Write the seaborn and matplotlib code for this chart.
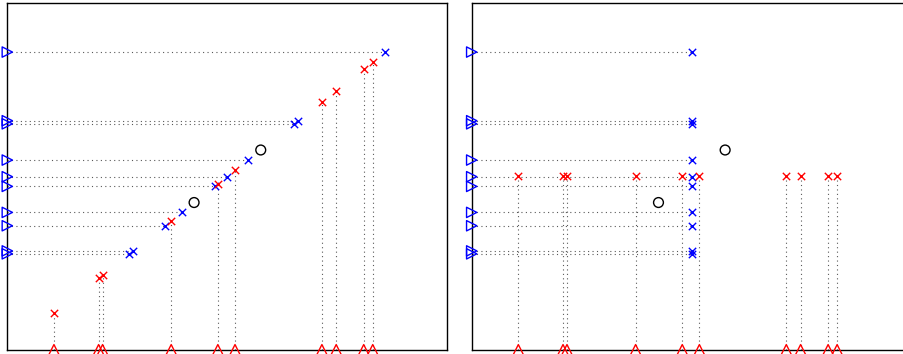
import numpy as np
import pandas as pd
import matplotlib
matplotlib.use('Agg')
import matplotlib.pyplot as plt
import seaborn as sns

# values (both axes span -1..1)
blue_vals = [0.717, 0.303, 0.321, 0.094, -0.002, -0.058, -0.208, -0.285, -0.447, -0.430]
red_vals = [0.661, 0.620, 0.495, 0.430, 0.035, -0.043, -0.255, -0.585, -0.567, -0.788]
circle_vals = [0.152, -0.151]
lims = (-1, 1)

sns.set_style('white')

fig = plt.figure(figsize=(9.04, 3.54), dpi=100)
ax1 = fig.add_axes([7.3 / 904, 4.3 / 354, 440 / 904, 346.7 / 354])
ax2 = fig.add_axes([471.7 / 904, 4.3 / 354, 440 / 904, 346.7 / 354])

blue = np.array(blue_vals)
red = np.array(red_vals)
circ = np.array(circle_vals)

panels = [
    (ax1, blue, blue, red, red),                                  # points on the diagonal
    (ax2, np.zeros_like(blue), blue, red, np.zeros_like(red)),    # projected onto the axes
]

dot_style = dict(color='0.35', linewidth=0.8, linestyle=(0, (1, 3)), zorder=1)

for ax, bx, by, rx, ry in panels:
    ax.set_xlim(lims)
    ax.set_ylim(lims)
    x0, y0 = lims[0], lims[0]

    ax.hlines(by, x0, bx, **dot_style)
    ax.vlines(rx, y0, ry, **dot_style)

    sns.scatterplot(x=bx, y=by, marker='x', color='#0000ff', s=28, linewidth=1.0, ax=ax, zorder=3)
    sns.scatterplot(x=rx, y=ry, marker='x', color='#ff0000', s=28, linewidth=1.0, ax=ax, zorder=3)
    sns.scatterplot(x=circ, y=circ, marker='o', facecolor='none', edgecolor='black',
                    s=50, linewidth=1.0, ax=ax, zorder=3)

    # rug-like triangles on the edges
    sns.scatterplot(x=np.full_like(by, x0), y=by, marker='>', facecolor='none', edgecolor='#0000ff',
                    s=55, linewidth=1.0, ax=ax, zorder=5, clip_on=False)
    sns.scatterplot(x=rx, y=np.full_like(rx, y0), marker='^', facecolor='none', edgecolor='#ff0000',
                    s=55, linewidth=1.0, ax=ax, zorder=5, clip_on=False)

    ax.set_xticks([])
    ax.set_yticks([])
    ax.set_xlabel('')
    ax.set_ylabel('')
    for sp in ax.spines.values():
        sp.set_color('black')
        sp.set_linewidth(1.0)

fig.savefig('out.png', dpi=100)
